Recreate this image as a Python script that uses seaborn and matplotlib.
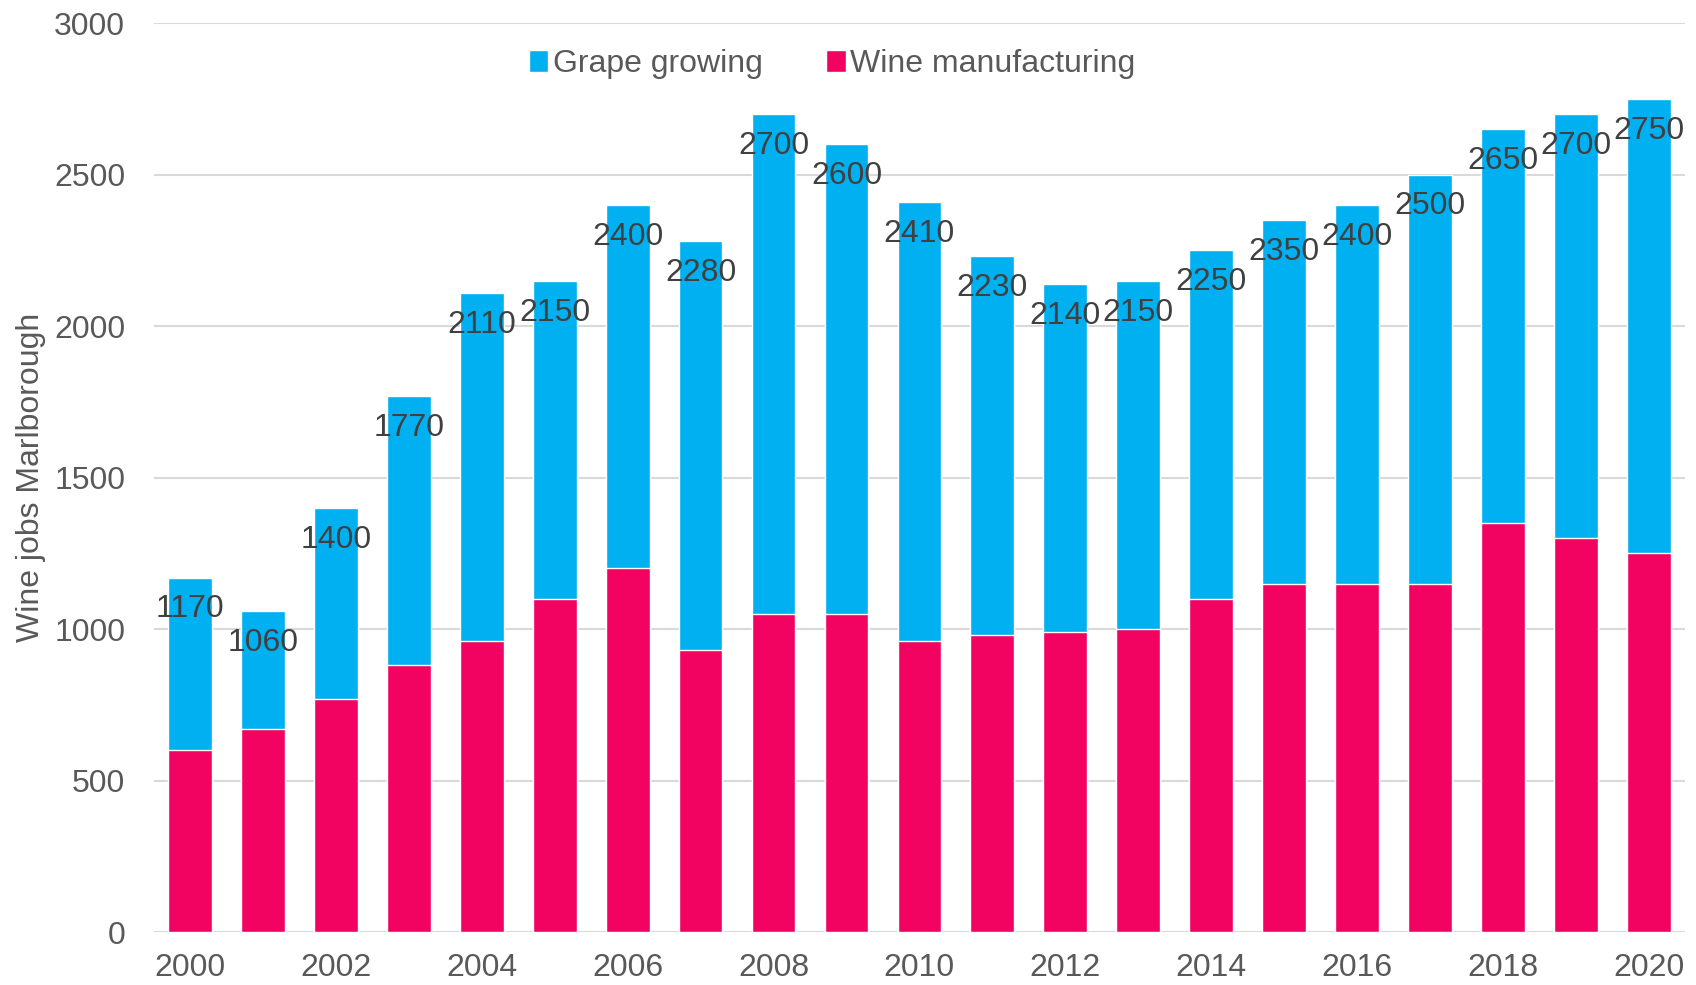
import pandas as pd
import matplotlib
matplotlib.use("Agg")
import matplotlib.pyplot as plt
from matplotlib.patches import Patch
import seaborn as sns

# Data
years = list(range(2000, 2021))
total_jobs = [1170, 1060, 1400, 1770, 2110, 2150, 2400, 2280, 2700, 2600, 2410,
              2230, 2140, 2150, 2250, 2350, 2400, 2500, 2650, 2700, 2750]
wine_manufacturing = [600, 670, 770, 880, 960, 1100, 1200, 930, 1050, 1050, 960,
                      980, 990, 1000, 1100, 1150, 1150, 1150, 1350, 1300, 1250]
grape_growing = [t - w for t, w in zip(total_jobs, wine_manufacturing)]

df = pd.DataFrame({
    "year": [str(y) for y in years],
    "total": total_jobs,
    "wine_manufacturing": wine_manufacturing,
    "grape_growing": grape_growing,
})

blue = "#00B0F0"
pink = "#F20362"
text_grey = "#595959"
label_grey = "#404040"
fs = 23

sns.set_style("white")
plt.rcParams["font.family"] = ["Liberation Sans", "DejaVu Sans"]

fig = plt.figure(figsize=(16.96, 9.85), dpi=100)
ax = fig.add_axes([0.0906, 0.0538, 0.903, 0.9228])

# stacked bars: total (blue) underneath, manufacturing (pink) on top of it
sns.barplot(data=df, x="year", y="total", color=blue, width=0.6,
            saturation=1, ax=ax, zorder=2)
sns.barplot(data=df, x="year", y="wine_manufacturing", color=pink, width=0.6,
            saturation=1, ax=ax, zorder=3)

# total labels just inside the bar top
for i, t in enumerate(df["total"]):
    ax.annotate(str(t), xy=(i, t), xytext=(0, -23), textcoords="offset points",
                ha="center", va="center", fontsize=fs, color=label_grey, zorder=4)

ax.set_ylim(0, 3000)
ax.set_xlim(-0.5, len(years) - 0.5)
ax.set_yticks(range(0, 3001, 500))
ax.yaxis.grid(True, color="#D9D9D9", linewidth=1.5, zorder=0)
ax.set_axisbelow(True)

ax.set_xticks(range(len(years)))
ax.set_xticklabels([str(y) if y % 2 == 0 else "" for y in years])
ax.tick_params(axis="both", length=0, labelsize=fs, colors=text_grey)
ax.tick_params(axis="x", pad=15)
ax.tick_params(axis="y", pad=20.5)

for side in ["top", "right", "left", "bottom"]:
    ax.spines[side].set_visible(False)

ax.set_xlabel("")
ax.set_ylabel("Wine jobs Marlborough", fontsize=fs, color=text_grey)
ax.yaxis.set_label_coords(-0.070, 0.5)

handles = [Patch(facecolor=blue, label="Grape growing"),
           Patch(facecolor=pink, label="Wine manufacturing")]
ax.legend(handles=handles, loc="center", bbox_to_anchor=(0.443, 0.955), ncol=2,
          frameon=False, fontsize=fs, handlelength=0.6, handleheight=0.7,
          handletextpad=0.15, columnspacing=2.0, labelcolor=text_grey)

fig.savefig("out.png", dpi=100)
